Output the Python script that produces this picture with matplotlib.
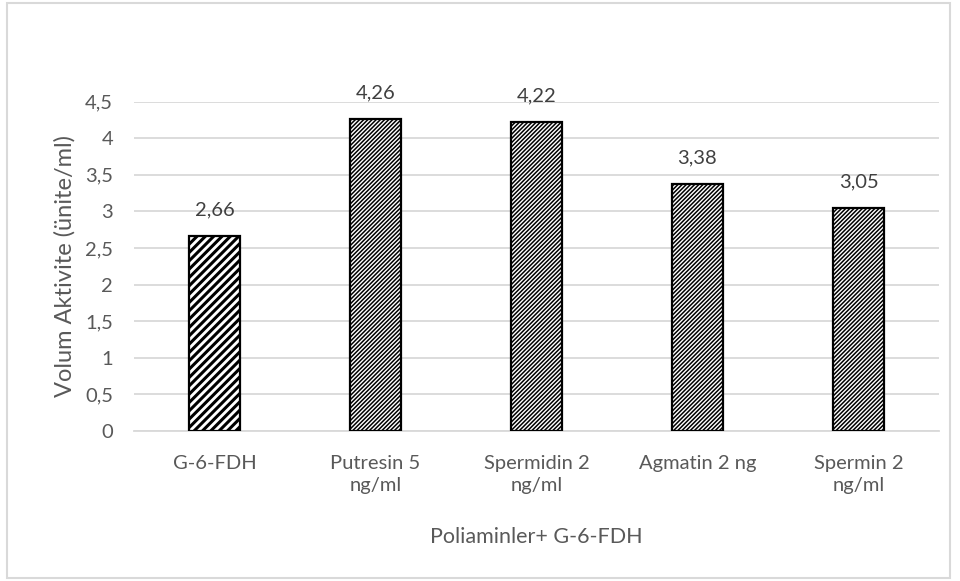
import matplotlib
matplotlib.use("Agg")
import matplotlib.pyplot as plt
from matplotlib.patches import Rectangle
from matplotlib.ticker import FuncFormatter, MultipleLocator

categories = ["G-6-FDH", "Putresin 5\nng/ml", "Spermidin 2\nng/ml", "Agmatin 2 ng", "Spermin 2\nng/ml"]
values = [2.66, 4.26, 4.22, 3.38, 3.05]
hatches = ["////", "////////", "////////", "////////", "////////"]
hatch_widths = [2.2, 1.1, 1.1, 1.1, 1.1]

plt.rcParams["font.family"] = ["Lato", "DejaVu Sans"]

W, H = 960, 581
fig = plt.figure(figsize=(W / 100, H / 100), dpi=100)

# light frame around the whole chart
fig.patches.append(Rectangle((7 / W, 3 / H), 943 / W, 575 / H, transform=fig.transFigure,
                             fill=False, edgecolor="#d9d9d9", linewidth=1.5))

ax = fig.add_axes([134 / W, (H - 431) / H, (939 - 134) / W, (431 - 101.5) / H])

x = list(range(len(categories)))
for i, (v, h, hw) in enumerate(zip(values, hatches, hatch_widths)):
    plt.rcParams["hatch.linewidth"] = hw
    b = ax.bar(i, v, width=0.32, facecolor="white", edgecolor="black",
               linewidth=1.6, hatch=h, zorder=3)[0]
    if hasattr(b, "set_hatch_linewidth"):
        b.set_hatch_linewidth(hw)
    ax.text(i, v + 0.24, f"{v:.2f}".replace(".", ","), ha="center", va="bottom",
            fontsize=14.5, color="#404040", clip_on=False)

ax.set_xlim(-0.5, len(categories) - 0.5)
ax.set_ylim(0, 4.5)
ax.yaxis.set_major_locator(MultipleLocator(0.5))
ax.yaxis.set_major_formatter(FuncFormatter(lambda v, p: f"{v:g}".replace(".", ",")))
ax.grid(axis="y", color="#d9d9d9", linewidth=1.3, zorder=0)
for s in ["top", "right", "left"]:
    ax.spines[s].set_visible(False)
ax.spines["bottom"].set_color("#d9d9d9")
ax.spines["bottom"].set_linewidth(1.3)
ax.tick_params(axis="both", length=0, labelsize=14.5, labelcolor="#595959")
ax.tick_params(axis="y", pad=15)
ax.tick_params(axis="x", pad=17)
ax.set_xticks(x)
ax.set_xticklabels(categories, linespacing=1.35)

ax.set_xlabel("Poliaminler+ G-6-FDH", fontsize=15.5, color="#595959", labelpad=24)
ax.set_ylabel("Volum Aktivite (ünite/ml)", fontsize=17, color="#595959", labelpad=7)

fig.savefig("out.png", dpi=100)
